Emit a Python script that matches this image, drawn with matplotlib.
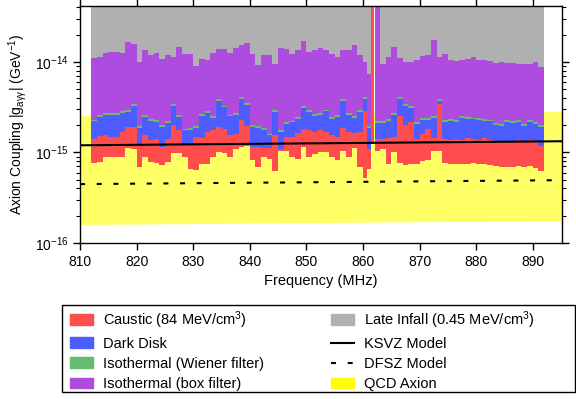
import matplotlib
matplotlib.use("Agg")
import matplotlib.pyplot as plt
import numpy as np
from matplotlib.lines import Line2D
from matplotlib.patches import Patch, Rectangle
from matplotlib.ticker import NullLocator

plt.rcParams["font.family"] = ["Liberation Sans", "DejaVu Sans"]
plt.rcParams["mathtext.default"] = "regular"
plt.rcParams["axes.linewidth"] = 1.0

# bin edges (MHz); narrow bins and a gap near 862 MHz
freq_edges = np.concatenate([np.arange(812, 861), [860.7, 861.5, 862.0, 862.2], np.arange(863, 893)])

nan = np.nan
# exclusion limits, units of 1e-15 GeV^-1 (one value per bin)
late_infall = [
    11.0, 11.3, 12.7, 13.0, 13.0, 12.6, 16.6, 15.9, 9.9, 13.4, 11.8, 12.5, 10.7, 11.9, 11.2, 14.8, 12.3, 12.2, 9.1, 10.9, 10.5,
    12.4, 14.0, 14.0, 12.4, 14.4, 15.4, 16.1, 12.2, 9.3, 12.0, 12.0, 9.5, 14.4, 14.0, 12.3, 13.5, 17.0, 13.0, 13.4, 14.3, 13.7,
    12.3, 11.3, 13.7, 13.7, 15.3, 12.0,
    9.95, 7.4,
    nan, nan, nan,
    9.55, 11.3, 14.7, 11.1, 9.95, 9.95, 10.6, 11.5, 12.0, 17.3, 11.3, 12.3,
    10.6, 10.2, 10.6, 10.85, 11.3, 10.6, 10.6, 10.2, 9.7, 9.95, 9.7, 9.7, 9.55, 9.55, 9.55, 9.95, 8.9,
]
iso_box = [
    2.30, 2.58, 2.75, 2.70, 2.72, 2.85, 2.93, 3.45, 1.95, 2.60, 2.36, 2.28, 2.00, 2.20, 3.39, 2.60, 1.83, 1.87, 1.95, 2.67, 2.90,
    2.52, 3.85, 3.30, 2.62, 2.75, 4.08, 3.54, 2.02, 1.95, 1.86, 1.60, 2.91, 1.75, 2.16, 2.25, 2.45, 3.24, 2.91, 2.67, 2.75, 2.98,
    2.46, 2.60, 3.90, 2.70, 2.52, 2.91,
    4.10, 1.94,
    nan, nan, 2.25,
    2.22, 2.35, 2.70, 4.10, 3.40, 3.25, 2.16, 2.38, 2.40, 2.50, 3.92, 2.26,
    2.36, 2.26, 2.50, 2.46, 2.43, 2.40, 2.34, 2.30, 2.11, 2.07, 2.26, 2.22, 2.26, 2.04, 2.26, 2.16, 1.99,
]
iso_wiener = [
    2.20, 2.45, 2.60, 2.58, 2.60, 2.72, 2.80, 3.28, 1.86, 2.48, 2.25, 2.18, 1.92, 2.10, 3.22, 2.48, 1.76, 1.79, 1.86, 2.55, 2.76,
    2.40, 3.66, 3.15, 2.50, 2.62, 3.88, 3.38, 1.92, 1.86, 1.78, 1.55, 2.77, 1.68, 2.07, 2.15, 2.33, 3.08, 2.78, 2.55, 2.62, 2.84,
    2.35, 2.48, 3.72, 2.58, 2.40, 2.78,
    3.92, 1.84,
    nan, nan, 2.14,
    2.12, 2.24, 2.58, 3.90, 3.25, 3.10, 2.06, 2.27, 2.29, 2.38, 3.74, 2.16,
    2.25, 2.16, 2.38, 2.35, 2.32, 2.29, 2.24, 2.20, 2.01, 1.98, 2.16, 2.12, 2.16, 1.95, 2.16, 2.06, 1.92,
]
dark_disk = [
    1.40, 1.52, 1.57, 1.48, 1.48, 1.68, 1.90, 1.90, 1.25, 1.57, 1.36, 1.40, 1.15, 1.40, 2.02, 1.75, 1.20, 1.20, 1.48, 1.44, 1.68,
    1.75, 1.90, 1.82, 1.54, 1.60, 2.31, 1.95, 1.15, 1.15, 1.12, 1.12, 1.54, 1.10, 1.48, 1.48, 1.65, 1.83, 1.75, 1.70, 1.75, 1.70,
    1.54, 1.50, 1.85, 1.70, 1.63, 1.68,
    2.90, 1.08,
    nan, nan, 1.42,
    1.40, 1.45, 1.50, 2.50, 2.00, 2.16, 1.42, 1.60, 1.80, 1.45, 3.40, 1.40,
    1.36, 1.40, 1.36, 1.46, 1.40, 1.36, 1.45, 1.36, 1.35, 1.34, 1.34, 1.34, 1.36, 1.34, 1.38, 1.34, 1.17,
]
caustic = [
    0.76, 0.78, 0.88, 0.89, 0.90, 0.90, 1.12, 1.10, 0.69, 0.89, 0.78, 0.76, 0.72, 0.78, 0.98, 0.98, 0.88, 0.65, 0.64, 0.75, 0.75,
    0.89, 1.02, 0.98, 0.90, 1.08, 1.15, 1.18, 0.82, 0.69, 0.88, 0.85, 0.63, 1.05, 1.05, 0.90, 0.85, 1.15, 0.90, 0.97, 1.00, 1.00,
    0.89, 0.83, 1.05, 0.88, 1.12, 0.69,
    0.52, 0.66,
    1.25, nan, 1.05,
    1.08, 0.75, 1.00, 0.76, 0.72, 0.74, 0.74, 0.80, 0.82, 1.05, 1.05, 0.76,
    0.75, 0.74, 0.75, 0.74, 0.765, 0.75, 0.74, 0.72, 0.70, 0.69, 0.69, 0.69, 0.70, 0.69, 0.70, 0.67, 0.63,
]

# model lines and QCD band, units of 1e-15 GeV^-1
model_freq = [810, 895.2]
ksvz = [1.20, 1.33]
dfsz = [0.447, 0.494]
qcd_low = [0.160, 0.177]
qcd_high = [2.57, 2.84]

scale = 1e-15
colors = {
    "caustic": "#FF4D4D",
    "dark": "#4D5CFF",
    "wiener": "#66BB6E",
    "box": "#AE4CE0",
    "late": "#B0B0B0",
}

fig = plt.figure(figsize=(5.76, 3.99), dpi=100)
ax = fig.add_axes([0.139, 0.391, 0.837, 0.594])

ax.fill_between(model_freq, np.array(qcd_low) * scale, np.array(qcd_high) * scale,
                color="#FFFF00", alpha=0.6, lw=0, zorder=1)

layers = [(caustic, "caustic"), (dark_disk, "dark"), (iso_wiener, "wiener"),
          (iso_box, "box"), (late_infall, "late")]
for vals, key in layers:
    ax.stairs(np.array(vals) * scale, freq_edges, baseline=1e-12, fill=True,
              color=colors[key], lw=0, zorder=2)

ax.plot(model_freq, np.array(ksvz) * scale, color="black", lw=1.5, zorder=3)
ax.plot(model_freq, np.array(dfsz) * scale, color="black", lw=1.5, dashes=(2.4, 5.6), zorder=3)

ax.set_yscale("log")
ax.set_xlim(810, 895.2)
ax.set_ylim(1e-16, 4.15e-14)
ax.set_yticks([1e-16, 1e-15, 1e-14])
ax.set_xticks(np.arange(810, 891, 10))
ax.xaxis.set_minor_locator(NullLocator())
ax.tick_params(which="both", direction="out", top=True, right=True,
               labeltop=False, labelright=False, labelsize=10)
ax.tick_params(which="major", length=5, width=1)
ax.tick_params(which="minor", length=3, width=0.8)

ax.set_xlabel("Frequency (MHz)", fontsize=10.5)
ax.set_ylabel(r"Axion Coupling |g$_{a\gamma\gamma}$| (GeV$^{-1}$)", fontsize=10)

handles = [
    Patch(color=colors["caustic"]),
    Patch(color=colors["dark"]),
    Patch(color=colors["wiener"]),
    Patch(color=colors["box"]),
    Patch(color=colors["late"]),
    Line2D([], [], color="black", lw=1.5),
    Line2D([], [], color="black", lw=1.5, dashes=(2.4, 5.6)),
    Patch(color="#FFFF00"),
]
labels = [
    r"Caustic (84 MeV/cm$^3$)",
    "Dark Disk",
    "Isothermal (Wiener filter)",
    "Isothermal (box filter)",
    r"Late Infall (0.45 MeV/cm$^3$)",
    "KSVZ Model",
    "DFSZ Model",
    "QCD Axion",
]
leg = fig.legend(handles, labels, loc="upper left",
                 bbox_to_anchor=(70 / 576, 1 - 309 / 399),
                 ncol=2, fontsize=10.5, frameon=False, borderaxespad=0, borderpad=0,
                 handlelength=1.6, handleheight=0.75, handletextpad=0.65,
                 labelspacing=0.42, columnspacing=4.6)

# legend box spans the full width below the axes
fig.patches.append(Rectangle((62 / 576, 7 / 399), 513 / 576, 87 / 399,
                             transform=fig.transFigure, fill=False,
                             edgecolor="black", lw=1.0))

fig.savefig("out.png", dpi=100)
plt.close(fig)
